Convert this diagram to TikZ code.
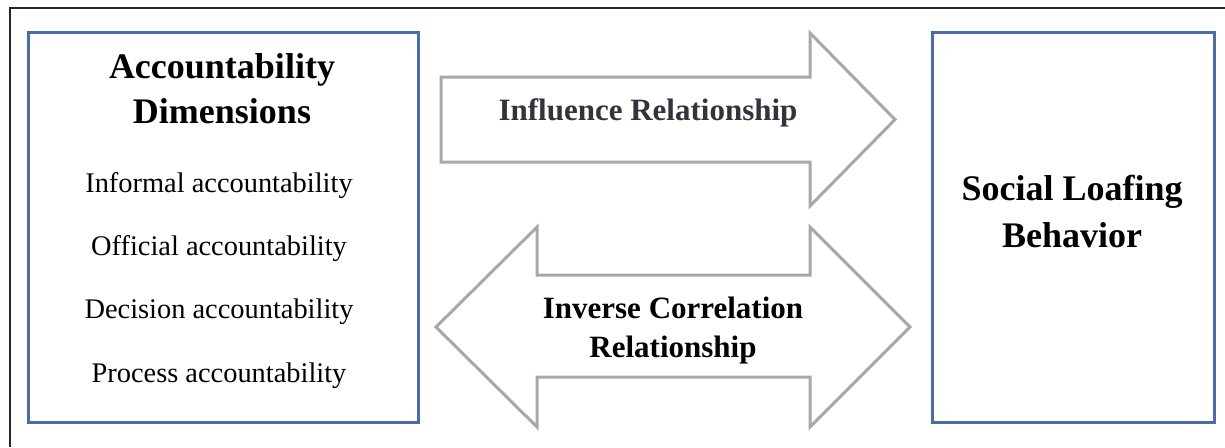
\documentclass[tikz,border=0pt]{standalone}
\usepackage{fontspec}
\setmainfont{Liberation Serif}
\definecolor{boxblue}{HTML}{4C6CA8}
\definecolor{arrowgray}{HTML}{A8A8A8}
\definecolor{labgray}{HTML}{30343C}
\tikzset{
  box/.style={draw=boxblue, line width=1.5pt, minimum width=195pt, minimum height=195pt, inner sep=0pt},
  rbox/.style={draw=boxblue, line width=1.5pt, minimum width=141pt, minimum height=195pt, inner sep=0pt},
  title/.style={font=\fontsize{18}{22}\selectfont\bfseries, anchor=base, inner sep=0pt},
  item/.style={font=\fontsize{14.2}{17}\selectfont, anchor=base, inner sep=0pt},
  alabel/.style={font=\fontsize{15.5}{19}\selectfont\bfseries, anchor=base, inner sep=0pt},
  bigarrow/.style={draw=arrowgray, line width=1.5pt, fill=white, line join=miter},
  frame/.style={draw=black!85, line width=0.8pt}
}
\begin{document}
\begin{tikzpicture}[x=0.5pt, y=-0.5pt]
\useasboundingbox (0,0) rectangle (1225,447);
% outer frame (cut off at right and bottom)
\draw[frame] (10,447) -- (10,8) -- (1225,8);
% left box
\node[box] (L) at (223,227.5) {};
\node[title] (t1) at (222,78) {Accountability};
\node[title] (t2) at (222,123) {Dimensions};
\node[item] (i1) at (219,192) {Informal accountability};
\node[item] (i2) at (219,255) {Official accountability};
\node[item] (i3) at (219,318) {Decision accountability};
\node[item] (i4) at (219,382) {Process accountability};
% right box
\node[rbox] (R) at (1073,227) {};
\node[title] (s1) at (1072,200) {Social Loafing};
\node[title] (s2) at (1072,247) {Behavior};
% influence arrow
\draw[bigarrow] (441,77) -- (810,77) -- (810,33) -- (895,119.5) -- (810,206) -- (810,162) -- (441,162) -- cycle;
\node[alabel, text=labgray] (a1) at (648,120) {Influence Relationship};
% double arrow
\draw[bigarrow] (436,327) -- (537,227) -- (537,275) -- (810,275) -- (810,227) -- (910,327) -- (810,427) -- (810,377) -- (537,377) -- (537,427) -- cycle;
\node[alabel] (a2) at (673,318) {Inverse Correlation};
\node[alabel] (a3) at (673,357) {Relationship};
\end{tikzpicture}
\end{document}
